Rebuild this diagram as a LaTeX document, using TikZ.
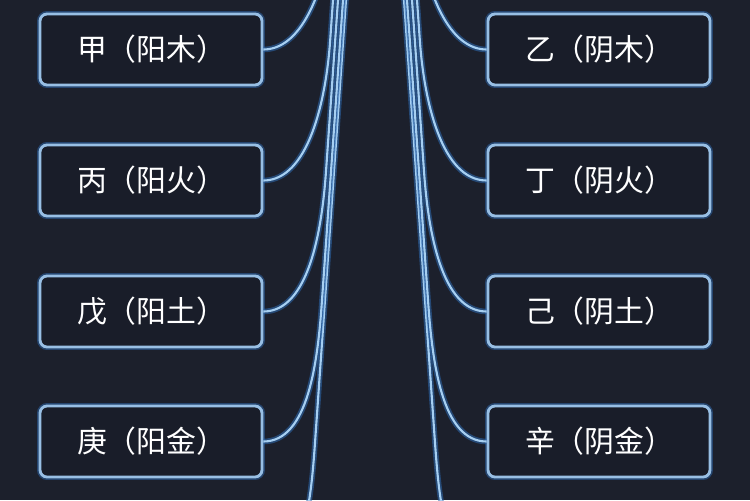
\documentclass[tikz,border=0pt]{standalone}
\usepackage{fontspec}
\newfontfamily\cjk{Noto Sans CJK SC}
\usetikzlibrary{calc,positioning}

\definecolor{bgnavy}{HTML}{1C202C}
\definecolor{boxfill}{HTML}{191D29}
\definecolor{boxline}{HTML}{98BFE4}
\definecolor{linkcore}{HTML}{A6CFF2}
\definecolor{linkglow}{HTML}{2E6BB3}

\tikzset{
  stembox/.style={draw=boxline, line width=1.6pt, fill=boxfill, rounded corners=4pt,
    text=white, font=\cjk\fontsize{17}{20}\selectfont,
    text width=2.96cm, align=left, inner xsep=0.74cm, minimum height=1.42cm,
    preaction={draw=linkglow, line width=3.4pt, opacity=0.5}},
  link/.style={draw=linkcore, line width=1.2pt,
    preaction={draw=linkglow, line width=3.2pt, opacity=0.55}}
}

\begin{document}
\begin{tikzpicture}[x=0.02cm,y=-0.02cm]
  \fill[bgnavy] (0,0) rectangle (750,500);
  \useasboundingbox (0,0) rectangle (750,500);
  \begin{scope}
  \clip (0,0) rectangle (750,500);
  \node[stembox] (jia)  at (151,49.5)  {甲（阳木）};
  \node[stembox] (bing) at (151,180.5) {丙（阳火）};
  \node[stembox] (wu)   at (151,311.5) {戊（阳土）};
  \node[stembox] (geng) at (151,441.5) {庚（阳金）};
  \node[stembox] (yi)   at (599,49.5)  {乙（阴木）};
  \node[stembox] (ding) at (599,180.5) {丁（阴火）};
  \node[stembox] (ji)   at (599,311.5) {己（阴土）};
  \node[stembox] (xin)  at (599,441.5) {辛（阴金）};
  \coordinate (ren) at (262,572);
  \coordinate (gui) at (488,572);
  \foreach \nm/\yy/\off in {ren/572/0, geng.east/441.5/-3, wu.east/311.5/-8, bing.east/180.5/-13, jia.east/49.5/-18}
    \draw[link] (\nm) .. controls ($(\nm)+(45,0)$) and ({346-0.07*(\yy-140)+\off-4.2},{\yy-80})
      .. ({346-0.07*(\yy-140)+\off},{\yy-140}) -- ({350.2+\off},-60);
  \foreach \nm/\yy/\off in {gui/572/0, xin.west/441.5/-3, ji.west/311.5/-8, ding.west/180.5/-13, yi.west/49.5/-18}
    \draw[link] (\nm) .. controls ($(\nm)+(-45,0)$) and ({404+0.07*(\yy-140)-\off+4.2},{\yy-80})
      .. ({404+0.07*(\yy-140)-\off},{\yy-140}) -- ({399.8-\off},-60);
  \end{scope}
\end{tikzpicture}
\end{document}
